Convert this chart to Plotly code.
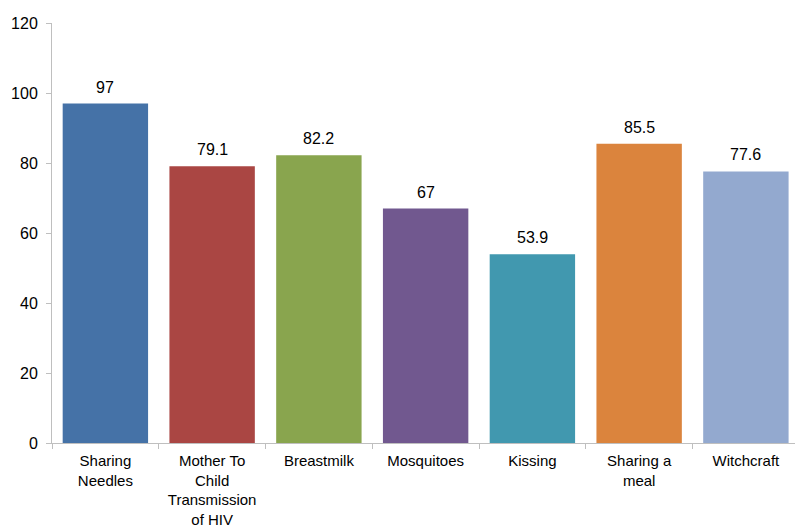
import plotly.graph_objects as go

categories = ["Sharing<br>Needles", "Mother To<br>Child<br>Transmission<br>of HIV", "Breastmilk",
              "Mosquitoes", "Kissing", "Sharing a<br>meal", "Witchcraft"]
values = [97, 79.1, 82.2, 67, 53.9, 85.5, 77.6]
value_labels = ["97", "79.1", "82.2", "67", "53.9", "85.5", "77.6"]
colors = ["#4572A7", "#AA4643", "#89A54E", "#71588F", "#4198AF", "#DB843D", "#93A9CF"]
y_ticks = [0, 20, 40, 60, 80, 100, 120]

fig = go.Figure(go.Bar(
    x=categories, y=values, marker=dict(color=colors, line=dict(width=0)),
    width=0.8, cliponaxis=False,
))
for c, v, t in zip(categories, values, value_labels):
    fig.add_annotation(x=c, y=v, text=t, showarrow=False, yanchor="bottom", yshift=6,
                       font=dict(family="Arial, Liberation Sans", size=16, color="#000000"))
fig.update_layout(
    width=795, height=526, margin=dict(l=52, r=0, t=23, b=83),
    plot_bgcolor="white", paper_bgcolor="white", showlegend=False,
    font=dict(family="Arial, Liberation Sans", size=16, color="#000000"),
)
fig.update_yaxes(range=[0, 120], tickvals=y_ticks, showgrid=False, showline=True,
                 linecolor="#BFBFBF", linewidth=1, ticks="outside", ticklen=5,
                 tickcolor="#BFBFBF", zeroline=False, tickfont=dict(size=16),
                 ticklabelstandoff=5, automargin=False)
fig.update_xaxes(range=[-0.5, 6.46], showgrid=False, showline=True, linecolor="#BFBFBF",
                 linewidth=1, ticks="outside", tickson="boundaries", ticklen=5,
                 tickcolor="#BFBFBF", tickangle=0, tickfont=dict(size=15),
                 ticklabelstandoff=4, automargin=False)
fig.write_html("out.html")
